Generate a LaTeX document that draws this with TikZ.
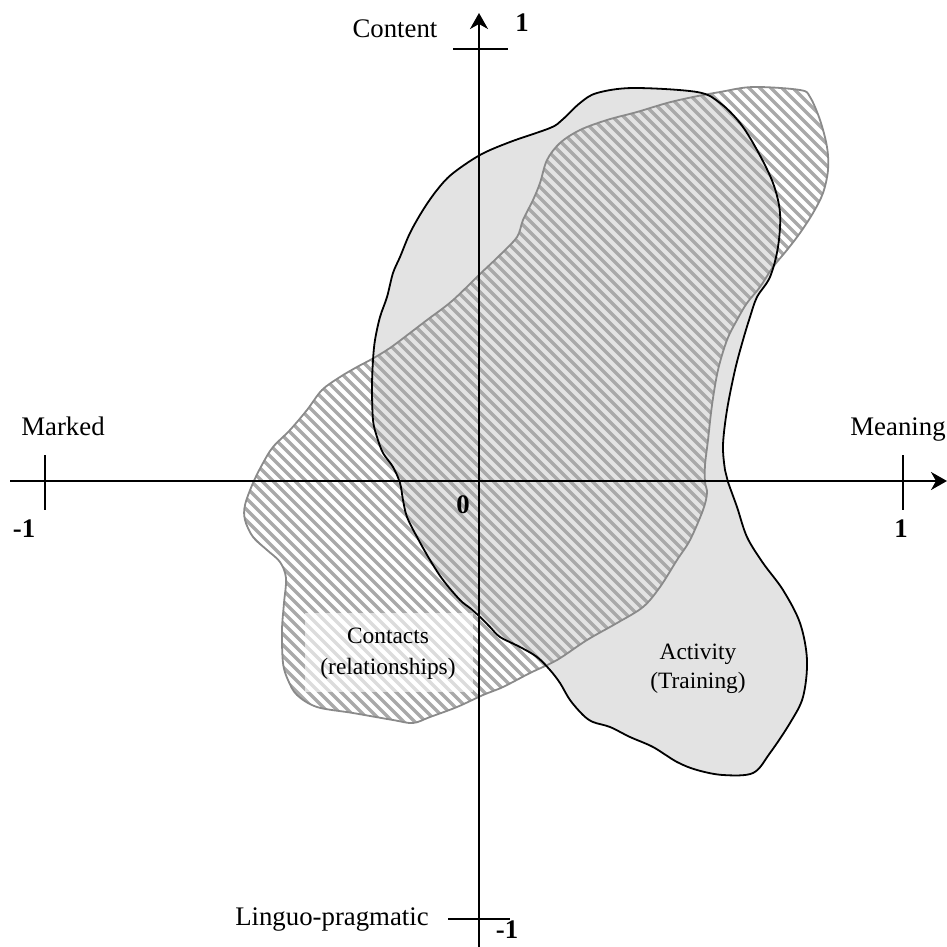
\documentclass[tikz,border=0pt]{standalone}
\usepackage{fontspec}
\setmainfont{Liberation Serif}
\usetikzlibrary{arrows.meta}
\definecolor{areagray}{HTML}{E3E3E3}
\definecolor{hatchgray}{HTML}{A9A9A9}
\definecolor{rimgray}{HTML}{8A8A8A}
\begin{document}
\begin{tikzpicture}[x=0.5pt,y=-0.5pt,
  axis/.style={line width=1pt,black},
  arrowaxis/.style={axis,-{Stealth[length=8pt,width=9pt,inset=2.5pt]}},
  ticker/.style={line width=1pt,black},
  axlabel/.style={font=\fontsize{13.4}{16}\selectfont,anchor=base,inner sep=0pt},
  numlabel/.style={font=\fontsize{13.4}{16}\selectfont\bfseries,anchor=base,inner sep=0pt},
  arealabel/.style={font=\fontsize{11.7}{14}\selectfont,anchor=base,inner sep=0pt},
  activityrim/.style={line width=0.9pt,black},
  contactrim/.style={line width=0.9pt,rimgray},
  hatchline/.style={line width=1.7pt,hatchgray}]
\useasboundingbox (0,0) rectangle (947,947);

% Activity region (grey)
\def\activitypath{plot[smooth cycle,tension=0.55] coordinates {
 (480,155) (510,142) (550,128) (562,120) (580,103) (597,93) (633,88) (697,92)
 (720,103) (740,123) (757,150) (773,183) (780,213) (778,247) (770,277) (757,297)
 (750,317) (743,340) (735,370) (727,410) (723,445) (725,470) (728,482) (737,507)
 (747,537) (763,563) (783,590) (800,623) (807,660) (803,697) (790,723) (770,753)
 (753,773) (723,775) (697,770) (677,762) (653,747) (630,737) (610,727) (593,722)
 (583,715) (570,700) (560,683) (550,670) (537,657) (520,647) (500,637) (490,627)
 (480,617) (470,608) (460,600) (443,580) (430,560) (417,537) (407,517) (403,500)
 (400,483) (393,467) (383,453) (377,437) (373,420) (372,387) (373,360) (375,340)
 (380,317) (387,297) (393,273) (400,257) (410,233) (423,210) (437,190) (452,174)}}
% Contacts region (hatched)
\def\contactpath{plot[smooth cycle,tension=0.55] coordinates {
 (427,320) (452,301) (480,274) (500,255) (517,237) (523,220) (533,200) (540,183)
 (547,160) (560,143) (580,130) (607,120) (637,112) (667,103) (693,97) (720,92)
 (753,87) (800,90) (810,97) (820,120) (827,147) (828,170) (823,193) (813,213)
 (800,233) (787,250) (773,267) (760,287) (747,303) (737,320) (727,340) (718,370)
 (712,405) (708,440) (705,465) (705,482) (707,493) (703,510) (690,540) (677,560)
 (660,587) (643,607) (617,623) (587,640) (557,660) (530,673) (503,687) (483,695)
 (457,707) (430,717) (413,723) (393,720) (353,713) (317,707) (297,695) (288,680)
 (283,663) (282,630) (284,603) (286,578) (280,562) (267,550) (253,537) (245,520)
 (245,505) (253,483) (263,463) (273,447) (290,430) (307,410) (322,390) (340,377)
 (357,367) (372,359) (390,348) (410,333)}}

\fill[areagray] \activitypath;

\begin{scope}
  \clip \contactpath;
  \foreach \c in {-1000,-989,...,1000}{
    \draw[hatchline] (\c,0) -- ++(1000,1000);
  }
\end{scope}

% label box of Contacts
\node[fill=white,fill opacity=0.6,inner sep=0pt,minimum width=84pt,minimum height=39.5pt] (cbox) at (389,652.5) {};

\draw[contactrim] \contactpath;
\draw[activityrim] \activitypath;

% axes
\coordinate (xL) at (10,481);
\coordinate (xR) at (947,481);
\coordinate (yB) at (479,947);
\coordinate (yT) at (479,13);
\draw[arrowaxis] (xL) -- (xR);
\draw[arrowaxis] (yB) -- (yT);

% ticks
\coordinate (tl1) at (45,455); \coordinate (tl2) at (45,510);
\coordinate (tr1) at (903,455); \coordinate (tr2) at (903,510);
\coordinate (tt1) at (453,49); \coordinate (tt2) at (508,49);
\coordinate (tb1) at (448,919); \coordinate (tb2) at (510,919);
\draw[ticker] (tl1) -- (tl2);
\draw[ticker] (tr1) -- (tr2);
\draw[ticker] (tt1) -- (tt2);
\draw[ticker] (tb1) -- (tb2);

% axis labels
\node[axlabel] (content) at (395,38) {Content};
\node[numlabel] (ntop) at (522,32) {1};
\node[axlabel] (marked) at (63,435) {Marked};
\node[numlabel] (nleft) at (24,537) {-1};
\node[axlabel] (meaning) at (898,435) {Meaning};
\node[numlabel] (nright) at (901,537) {1};
\node[numlabel] (zero) at (463,513) {0};
\node[axlabel] (linguo) at (332,925) {Linguo-pragmatic};
\node[numlabel] (nbottom) at (507,938) {-1};

% area labels
\node[arealabel] (cont1) at (388,643) {Contacts};
\node[arealabel] (cont2) at (388,674) {(relationships)};
\node[arealabel] (act1) at (698,659) {Activity};
\node[arealabel] (act2) at (698,688) {(Training)};
\end{tikzpicture}
\end{document}
